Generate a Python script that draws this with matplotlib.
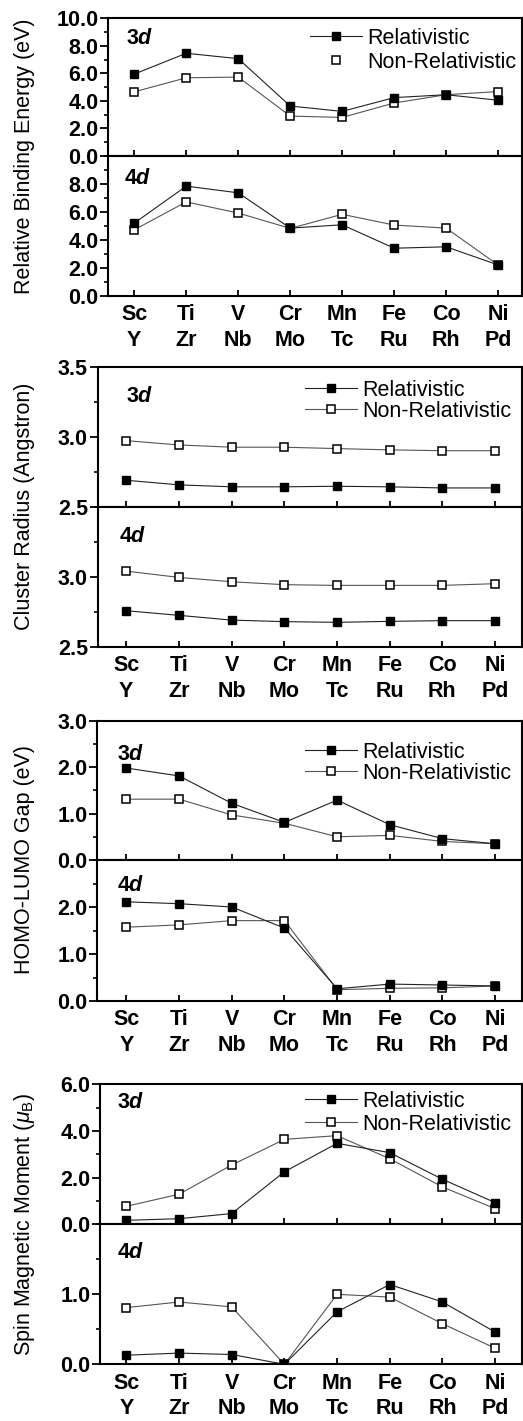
import matplotlib
matplotlib.use('Agg')
import matplotlib.pyplot as plt
from matplotlib.lines import Line2D
from matplotlib.ticker import MultipleLocator, FormatStrFormatter, FixedLocator

plt.rcParams['font.family'] = ['Liberation Sans', 'DejaVu Sans']
plt.rcParams['mathtext.fontset'] = 'custom'
plt.rcParams['mathtext.rm'] = 'Liberation Sans'
plt.rcParams['mathtext.it'] = 'Liberation Sans:italic'
plt.rcParams['mathtext.bf'] = 'Liberation Sans:bold'
plt.rcParams['mathtext.bfit'] = 'Liberation Sans:italic:bold'

elements_3d = ['Sc', 'Ti', 'V', 'Cr', 'Mn', 'Fe', 'Co', 'Ni']
elements_4d = ['Y', 'Zr', 'Nb', 'Mo', 'Tc', 'Ru', 'Rh', 'Pd']

# relative binding energy (eV)
be_3d_rel = [5.95, 7.46, 7.07, 3.63, 3.24, 4.24, 4.45, 4.05]
be_3d_non = [4.66, 5.68, 5.73, 2.90, 2.80, 3.85, 4.45, 4.68]
be_4d_rel = [5.19, 7.84, 7.36, 4.83, 5.07, 3.39, 3.49, 2.19]
be_4d_non = [4.71, 6.71, 5.91, 4.81, 5.82, 5.05, 4.83, 2.19]

# cluster radius (Angstrom)
cr_3d_rel = [2.689, 2.656, 2.642, 2.642, 2.646, 2.642, 2.634, 2.634]
cr_3d_non = [2.972, 2.941, 2.925, 2.925, 2.915, 2.906, 2.900, 2.900]
cr_4d_rel = [2.757, 2.724, 2.690, 2.679, 2.674, 2.681, 2.686, 2.686]
cr_4d_non = [3.040, 2.995, 2.964, 2.943, 2.938, 2.938, 2.938, 2.950]

# HOMO-LUMO gap (eV)
gap_3d_rel = [1.98, 1.81, 1.22, 0.81, 1.29, 0.76, 0.46, 0.35]
gap_3d_non = [1.31, 1.31, 0.97, 0.79, 0.50, 0.53, 0.40, 0.35]
gap_4d_rel = [2.11, 2.07, 2.00, 1.55, 0.26, 0.36, 0.34, 0.32]
gap_4d_non = [1.57, 1.62, 1.71, 1.71, 0.24, 0.27, 0.28, 0.32]

# spin magnetic moment (mu_B)
mag_3d_rel = [0.17, 0.24, 0.46, 2.25, 3.47, 3.07, 1.93, 0.93]
mag_3d_non = [0.77, 1.29, 2.54, 3.64, 3.80, 2.81, 1.60, 0.67]
mag_4d_rel = [0.13, 0.16, 0.14, 0.00, 0.75, 1.14, 0.89, 0.46]
mag_4d_non = [0.81, 0.89, 0.82, 0.00, 1.00, 0.96, 0.58, 0.23]

W, H = 523, 1421
FS = 15.5
fig = plt.figure(figsize=(W / 100, H / 100), dpi=100)
x = list(range(len(elements_3d)))
xlabels = [a + '\n' + b for a, b in zip(elements_3d, elements_4d)]

rel_style = dict(marker='s', ms=6, color='#222222', lw=0.8, mfc='black', mec='black')
non_style = dict(marker='s', ms=6, color='#555555', lw=0.8, mfc='white', mec='black', mew=1.1)


def px_axes(left, top, bottom, right=521.5):
    return fig.add_axes([left / W, 1 - bottom / H, (right - left) / W, (bottom - top) / H])


def style(ax, xlim, ylim, major, minor, hide_top, show_x):
    ax.set_xlim(*xlim)
    ax.set_ylim(*ylim)
    for s in ax.spines.values():
        s.set_linewidth(1.5)
    ax.set_xticks(x)
    if show_x:
        ax.set_xticklabels(xlabels, fontsize=FS, fontweight='bold', linespacing=1.3)
    else:
        ax.set_xticklabels([])
    ticks = []
    v = ylim[0]
    while v <= ylim[1] + 1e-9:
        ticks.append(round(v, 3))
        v += major
    if hide_top:
        ticks = ticks[:-1]
    ax.yaxis.set_major_locator(FixedLocator(ticks))
    ax.yaxis.set_minor_locator(MultipleLocator(minor))
    ax.yaxis.set_major_formatter(FormatStrFormatter('%.1f'))
    for lab in ax.get_yticklabels():
        lab.set_fontweight('bold')
    ax.tick_params(axis='y', which='major', direction='out', length=5.5, width=1.3,
                   pad=1.5, labelsize=FS)
    ax.tick_params(axis='y', which='minor', direction='out', length=3, width=1.2)
    ax.tick_params(axis='x', which='major', direction='in', length=4, width=1.3,
                   pad=6, labelsize=FS, top=False)
    ax.tick_params(axis='x', which='minor', bottom=False, top=False)
    ax.tick_params(axis='y', which='both', right=False)


def series_label(px, py, text):
    fig.text(px / W, 1 - py / H, text, fontsize=FS, ha='left', va='center')


groups = [
    dict(left=108.3, top=18.3, mid=156.0, bottom=295.5, xlim=(-0.5, 7.45),
         ylim=(0, 10), major=2, minor=1,
         d3=(be_3d_rel, be_3d_non), d4=(be_4d_rel, be_4d_non),
         ylabel='Relative Binding Energy (eV)',
         leg=(310, 27.6, 0.15), nonline=False,
         lab3=(126, 38), lab4=(124, 179)),
    dict(left=97.7, top=366.7, mid=506.7, bottom=646.7, xlim=(-0.54, 7.5),
         ylim=(2.5, 3.5), major=0.5, minor=0.25,
         d3=(cr_3d_rel, cr_3d_non), d4=(cr_4d_rel, cr_4d_non),
         ylabel='Cluster Radius (Angstron)',
         leg=(305, 379.6, 0.02), nonline=True,
         lab3=(126, 397), lab4=(119, 537)),
    dict(left=97.0, top=720.7, mid=860.0, bottom=1001.0, xlim=(-0.56, 7.5),
         ylim=(0, 3), major=1, minor=0.5,
         d3=(gap_3d_rel, gap_3d_non), d4=(gap_4d_rel, gap_4d_non),
         ylabel='HOMO-LUMO Gap (eV)',
         leg=(305, 741.6, 0.0), nonline=True,
         lab3=(117, 754), lab4=(117, 885)),
    dict(left=100.0, top=1084.3, mid=1224.3, bottom=1364.3, xlim=(-0.5, 7.5),
         ylim=None, major=None, minor=None,
         d3=(mag_3d_rel, mag_3d_non), d4=(mag_4d_rel, mag_4d_non),
         ylabel=r'Spin Magnetic Moment ($\mu_{\mathrm{B}}$)',
         leg=(305, 1090.6, 0.1), nonline=True,
         lab3=(117, 1103), lab4=(117, 1253)),
]

for i, g in enumerate(groups):
    ax3 = px_axes(g['left'], g['top'], g['mid'])
    ax4 = px_axes(g['left'], g['mid'], g['bottom'])
    ax3.plot(x, g['d3'][1], **non_style)
    ax3.plot(x, g['d3'][0], **rel_style)
    ax4.plot(x, g['d4'][1], **non_style)
    ax4.plot(x, g['d4'][0], **rel_style)
    if i < 3:
        style(ax3, g['xlim'], g['ylim'], g['major'], g['minor'], False, False)
        style(ax4, g['xlim'], g['ylim'], g['major'], g['minor'], True, True)
    else:
        style(ax3, g['xlim'], (0, 6), 2, 1, False, False)
        style(ax4, g['xlim'], (0, 2), 1, 0.5, True, True)

    h_rel = Line2D([], [], **rel_style)
    if g['nonline']:
        h_non = Line2D([], [], **non_style)
    else:
        h_non = Line2D([], [], marker='s', ms=6, ls='none', mfc='white', mec='black', mew=1.1)
    lx, ly, lsp = g['leg']
    ax3.legend([h_rel, h_non], ['Relativistic', 'Non-Relativistic'],
               loc='upper left', bbox_to_anchor=(lx / W, 1 - ly / H),
               bbox_transform=fig.transFigure, frameon=False, fontsize=FS,
               borderpad=0, borderaxespad=0, handlelength=2.4, handletextpad=0.25,
               labelspacing=lsp)

    series_label(*g['lab3'], r'$\mathbf{3}\mathbfit{d}$')
    series_label(*g['lab4'], r'$\mathbf{4}\mathbfit{d}$')
    fig.text(24.5 / W, 1 - g['mid'] / H, g['ylabel'], rotation=90,
             ha='center', va='center', fontsize=FS)

fig.savefig('out.png', dpi=100)
